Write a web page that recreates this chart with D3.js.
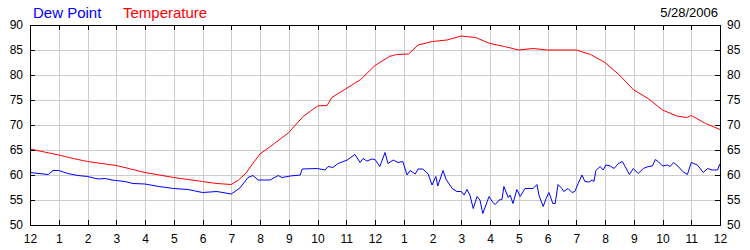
<!DOCTYPE html>
<html>
<head>
<meta charset="utf-8">
<script src="https://cdn.jsdelivr.net/npm/d3@7"></script>
<style>
    body { margin: 0; background: #fff; }
    svg { display: block; font-family: Arial, "Liberation Sans", sans-serif; }
</style>
</head>
<body>
<div id="canvas"></div>
<script>

// readings, time of day as "H:MM"
const tempTimes = ["0:00", "0:30", "1:00", "1:30", "2:00", "2:30", "3:00", "3:30", "4:00", "4:30",
    "5:00", "5:30", "6:00", "6:30", "7:00", "7:15", "7:30", "7:45", "8:00", "8:30", "9:00", "9:30",
    "10:00", "10:20", "10:30", "11:00", "11:30", "12:00", "12:30", "12:45", "13:10", "13:30", "14:00",
    "14:30", "15:00", "15:30", "16:00", "16:30", "17:00", "17:30", "18:00", "18:30", "19:00", "19:30",
    "20:00", "20:30", "21:00", "21:30", "22:00", "22:30", "22:50", "23:00", "23:30", "24:00"];
const tempValues = [65.2, 64.6, 64.0, 63.3, 62.7, 62.3, 61.9, 61.2, 60.5, 60.0,
    59.5, 59.1, 58.7, 58.3, 58.1, 59.0, 60.3, 62.3, 64.2, 66.3, 68.5, 71.7,
    73.8, 73.9, 75.5, 77.3, 79.1, 81.9, 83.7, 84.1, 84.2, 86.0, 86.7,
    87.0, 87.8, 87.5, 86.3, 85.7, 85.0, 85.3, 85.0, 85.0, 85.0, 84.1,
    82.5, 80.0, 77.0, 75.3, 73.0, 71.8, 71.5, 71.9, 70.3, 69.1];

const dewTimes = ["0:00", "0:38", "0:48", "1:00", "1:19", "1:40", "2:00", "2:22", "2:37", "2:51",
    "3:00", "3:18", "3:35", "4:00", "4:29", "5:00", "5:30", "6:00", "6:30", "7:00",
    "7:18", "7:35", "7:45", "7:56", "8:21", "8:38", "8:46", "9:03", "9:24", "9:28",
    "10:00", "10:16", "10:22", "10:32", "10:43", "11:02", "11:18", "11:29", "11:35", "11:43",
    "11:54", "12:00", "12:10", "12:21", "12:27", "12:38", "12:48", "12:58", "13:07", "13:13",
    "13:24", "13:30", "13:40", "13:51", "13:59", "14:07", "14:11", "14:22", "14:28", "14:41",
    "14:51", "15:00", "15:06", "15:12", "15:18", "15:25", "15:33", "15:39", "15:45", "15:58",
    "16:06", "16:11", "16:19", "16:25", "16:29", "16:38", "16:42", "16:48", "16:56", "17:03",
    "17:13", "17:30", "17:38", "17:42", "17:51", "17:57", "18:03", "18:11", "18:16", "18:22",
    "18:30", "18:34", "18:43", "18:51", "18:57", "19:04", "19:12", "19:18", "19:27", "19:33",
    "19:37", "19:41", "19:50", "19:56", "20:02", "20:11", "20:19", "20:28", "20:36", "20:42",
    "20:51", "20:59", "21:09", "21:20", "21:30", "21:39", "21:45", "21:51", "22:00", "22:10",
    "22:16", "22:23", "22:33", "22:42", "22:52", "23:00", "23:13", "23:25", "23:34", "23:44",
    "23:55", "23:59", "24:00"];
const dewValues = [60.5, 60.1, 60.9, 60.9, 60.3, 59.9, 59.7, 59.2, 59.3, 59.0,
    58.9, 58.7, 58.3, 58.2, 57.7, 57.3, 57.1, 56.5, 56.7, 56.2,
    57.4, 59.5, 59.9, 59.0, 59.0, 59.9, 59.5, 59.8, 60.0, 61.2,
    61.3, 61.0, 61.7, 61.5, 62.3, 63.0, 64.1, 62.5, 63.3, 62.8,
    63.2, 63.1, 61.7, 64.5, 62.3, 63.0, 62.5, 62.7, 60.0, 60.9,
    60.2, 61.2, 61.2, 60.2, 58.0, 59.7, 57.8, 60.9, 59.2, 57.3,
    56.7, 56.7, 56.0, 57.1, 56.0, 53.3, 55.7, 55.0, 52.3, 55.7,
    54.5, 54.1, 55.0, 55.1, 57.7, 55.5, 56.0, 54.3, 57.1, 55.7,
    57.3, 57.3, 58.1, 56.0, 53.7, 55.3, 56.5, 54.3, 54.3, 58.1,
    57.3, 56.7, 57.3, 56.5, 56.7, 58.3, 60.0, 58.7, 58.6, 59.0,
    58.7, 60.9, 61.7, 61.0, 62.0, 61.8, 61.3, 62.3, 62.7, 61.7,
    60.1, 61.3, 60.3, 61.3, 61.7, 61.8, 63.1, 62.7, 61.8, 62.0,
    61.7, 62.5, 61.7, 60.7, 60.1, 62.5, 62.0, 60.5, 61.3, 61.0,
    61.0, 62.1, 61.8];

const hourLabels = ["12", "1", "2", "3", "4", "5", "6", "7", "8", "9", "10", "11",
    "12", "1", "2", "3", "4", "5", "6", "7", "8", "9", "10", "11", "12"];
const yTicks = [50, 55, 60, 65, 70, 75, 80, 85, 90];
const dateLabel = "5/28/2006";

// "H:MM" -> hours
function toHours(s) {
    const p = s.split(":");
    return +p[0] + +p[1] / 60;
}

const temps = tempTimes.map((t, i) => ({ h: toHours(t), v: tempValues[i] }));
const dews = dewTimes.map((t, i) => ({ h: toHours(t), v: dewValues[i] }));

// dimensions
const width = 750;
const height = 250;
const margin = { top: 25, right: 30, bottom: 25, left: 30 };

const svg = d3.select("#canvas")
    .append("svg")
    .attr("width", width)
    .attr("height", height);

const x = d3.scaleLinear()
    .domain([0, 24])
    .range([margin.left, width - margin.right]);

const y = d3.scaleLinear()
    .domain([50, 90])
    .range([height - margin.bottom, margin.top]);

const hours = d3.range(0, 25);

// grid
const grid = svg.append("g")
    .attr("stroke", "#cccccc")
    .attr("stroke-width", 1)
    .attr("shape-rendering", "crispEdges");

grid.selectAll(".vgrid")
    .data(hours.slice(1, -1))
    .join("line")
    .attr("x1", d => Math.round(x(d)) + 0.5)
    .attr("x2", d => Math.round(x(d)) + 0.5)
    .attr("y1", y(90))
    .attr("y2", y(50));

grid.selectAll(".hgrid")
    .data(yTicks.slice(1, -1))
    .join("line")
    .attr("x1", x(0))
    .attr("x2", x(24))
    .attr("y1", d => Math.round(y(d)) + 0.5)
    .attr("y2", d => Math.round(y(d)) + 0.5);

// lines
const line = d3.line()
    .x(d => x(d.h))
    .y(d => y(d.v));

svg.append("path")
    .datum(temps)
    .attr("fill", "none")
    .attr("stroke", "#ff0000")
    .attr("stroke-width", 1)
    .attr("d", line);

svg.append("path")
    .datum(dews)
    .attr("fill", "none")
    .attr("stroke", "#0000ff")
    .attr("stroke-width", 1)
    .attr("d", line);

// axes (ticks pointing inward)
const fmtHour = (d, i) => hourLabels[i];

const bottomAxis = svg.append("g")
    .attr("transform", `translate(0, ${y(50)})`)
    .call(d3.axisBottom(x).tickValues(hours).tickFormat(fmtHour).tickSizeInner(-5).tickSizeOuter(0).tickPadding(9));

const topAxis = svg.append("g")
    .attr("transform", `translate(0, ${y(90)})`)
    .call(d3.axisTop(x).tickValues(hours).tickFormat("").tickSizeInner(-5).tickSizeOuter(0));

const leftAxis = svg.append("g")
    .attr("transform", `translate(${x(0)}, 0)`)
    .call(d3.axisLeft(y).tickValues(yTicks).tickSizeInner(-5).tickSizeOuter(0).tickPadding(7));

const rightAxis = svg.append("g")
    .attr("transform", `translate(${x(24)}, 0)`)
    .call(d3.axisRight(y).tickValues(yTicks).tickSizeInner(-5).tickSizeOuter(0).tickPadding(7));

svg.selectAll(".domain, .tick line")
    .attr("stroke", "#000")
    .attr("shape-rendering", "crispEdges");

svg.selectAll(".tick text")
    .attr("fill", "#000")
    .style("font-size", "12px")
    .style("font-family", "Arial, 'Liberation Sans', sans-serif");

// legend and date
svg.append("text")
    .attr("x", 33)
    .attr("y", 18)
    .attr("fill", "#0000ff")
    .style("font-size", "15px")
    .text("Dew Point");

svg.append("text")
    .attr("x", 123)
    .attr("y", 18)
    .attr("fill", "#ff0000")
    .style("font-size", "15px")
    .text("Temperature");

svg.append("text")
    .attr("x", 718)
    .attr("y", 17)
    .attr("text-anchor", "end")
    .attr("fill", "#000")
    .style("font-size", "13px")
    .text(dateLabel);

</script>
</body>
</html>
